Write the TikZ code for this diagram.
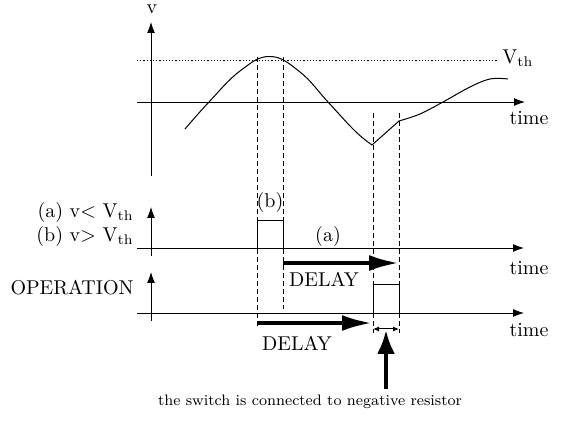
\documentclass[tikz,border=0pt]{standalone}
\usetikzlibrary{arrows.meta,positioning,calc}
\tikzset{
  >=Latex,
  every node/.style={font=\normalsize,text=black,inner sep=1pt},
  axis/.style={-{Latex[length=5.5pt,width=4pt]},line width=0.45pt},
  guide/.style={dash pattern=on 2.5pt off 1.5pt,line width=0.4pt},
  thresh/.style={dash pattern=on 0.6pt off 1pt,line width=0.4pt},
  wave/.style={line width=0.5pt},
  pulse/.style={line width=0.5pt},
  delayarr/.style={-{Latex[length=15pt,width=8pt]},line width=2pt},
  markarr/.style={-{Latex[length=12pt,width=9pt]},line width=2pt},
  spanarr/.style={{Latex[length=3pt,width=2.5pt]}-{Latex[length=3pt,width=2.5pt]},line width=0.5pt},
  sidelabel/.style={anchor=east,align=right}
}
\begin{document}
\begin{tikzpicture}[x=0.5pt,y=-0.5pt]
  \useasboundingbox (0,0) rectangle (574,421);

  % voltage plot
  \coordinate (vbot) at (151,176);
  \coordinate (vtop) at (151,22);
  \coordinate (tleft) at (137,102);
  \coordinate (tright) at (525,102);
  \coordinate (thl) at (137,60);
  \coordinate (thr) at (498,60);
  \draw[axis] (vbot) -- (vtop);
  \draw[axis] (tleft) -- (tright);
  \draw[thresh] (thl) -- (thr);
  \node (vlab) at (152,9) {v};
  \node[anchor=west] (vth) at (500,58) {V$_{\mathrm{th}}$};
  \node (time1) at (529,118) {time};
  \draw[wave] plot[smooth,tension=0.7] coordinates {(185,129) (209,102) (240,71) (270,56.5) (300,72) (328,102) (355,131) (372,145)}
    -- (399,121)
    plot[smooth,tension=0.6] coordinates {(399,121) (420,114) (443,102) (470,87) (490,79) (508,79)};

  % comparator plot
  \coordinate (cbot) at (151,256);
  \coordinate (ctop) at (151,207);
  \coordinate (cleft) at (137,248);
  \coordinate (cright) at (524,248);
  \draw[axis] (cbot) -- (ctop);
  \draw[axis] (cleft) -- (cright);
  \node[sidelabel] (lab-a) at (136,213) {(a) v\textless{} V$_{\mathrm{th}}$};
  \node[sidelabel] (lab-b) at (136,237) {(b) v\textgreater{} V$_{\mathrm{th}}$};
  \draw[pulse] (257,248) -- (257,221) -- (283,221) -- (283,248);
  \node (bmark) at (270,203) {(b)};
  \node (amark) at (328,237) {(a)};
  \node (time2) at (529,268) {time};

  % operation plot
  \coordinate (obot) at (151,321);
  \coordinate (otop) at (151,272);
  \coordinate (oleft) at (137,313);
  \coordinate (oright) at (524,313);
  \draw[axis] (obot) -- (otop);
  \draw[axis] (oleft) -- (oright);
  \node[sidelabel] (oplab) at (136,288) {OPERATION};
  \draw[pulse] (373,313) -- (373,285) -- (399,285) -- (399,313);
  \node (time3) at (529,330) {time};

  % guides
  \draw[guide] (257,57) -- (257,328);
  \draw[guide] (283,57) -- (283,309);
  \draw[guide] (373,113) -- (373,333);
  \draw[guide] (399,113) -- (399,333);

  % delays
  \coordinate (d1s) at (283,263);
  \coordinate (d1e) at (399,263);
  \coordinate (d2s) at (257,323);
  \coordinate (d2e) at (372,323);
  \draw[delayarr] (d1s) -- (d1e);
  \node (delay1) at (324,279) {DELAY};
  \draw[delayarr] (d2s) -- (d2e);
  \node (delay2) at (297,343) {DELAY};
  \coordinate (sw1) at (373,329);
  \coordinate (sw2) at (399,329);
  \draw[spanarr] (sw1) -- (sw2);

  % switch note
  \node[font=\fontsize{7.6}{9}\selectfont] (note) at (310,402) {the switch is connected to negative resistor};
  \coordinate (pt) at (386,330);
  \draw[markarr] (note.north -| pt) ++(0,-4) coordinate (nt) (nt) -- (pt);
\end{tikzpicture}
\end{document}
